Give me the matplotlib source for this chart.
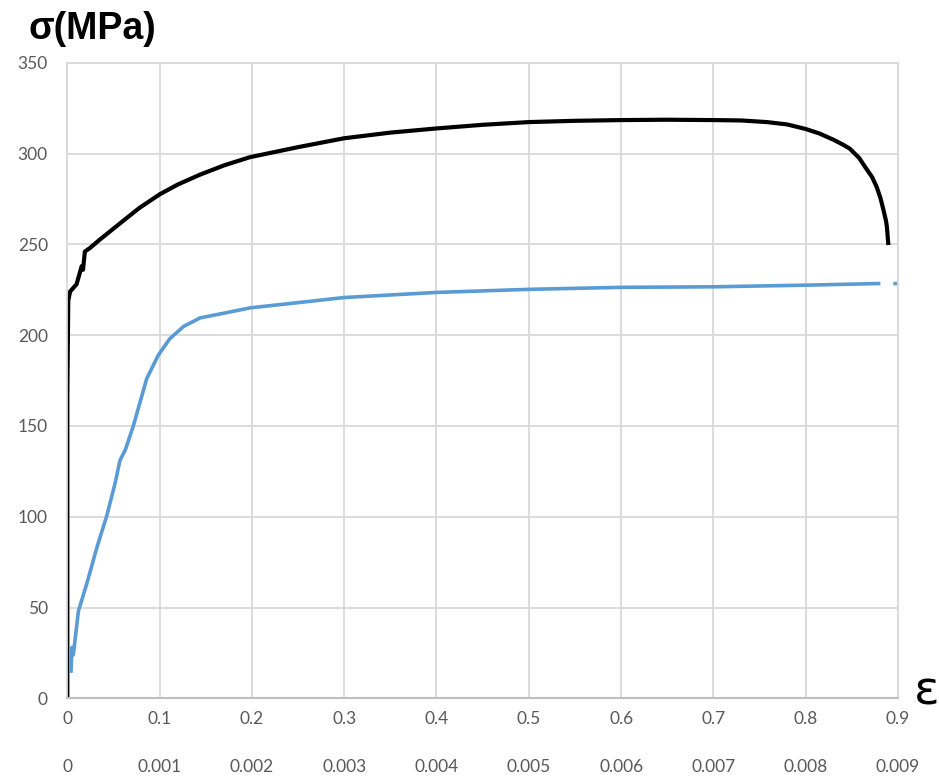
import numpy as np
import matplotlib

matplotlib.use("Agg")
import matplotlib.pyplot as plt

# strain on the main axis (as shown, 0..0.9) and stress in MPa
black_strain = [0, 0, 0.001, 0.003, 0.010, 0.0156, 0.017, 0.019, 0.0246, 0.035,
                0.057, 0.078, 0.100, 0.120, 0.144, 0.170, 0.198, 0.25, 0.30, 0.35,
                0.40, 0.45, 0.50, 0.55, 0.60, 0.65, 0.70, 0.73, 0.758, 0.78, 0.80,
                0.815, 0.830, 0.840, 0.848, 0.858, 0.866, 0.872, 0.877, 0.881,
                0.884, 0.887, 0.888, 0.8896]
black_stress = [0, 167, 219, 224, 228, 238, 236, 246, 248, 252.5,
                261.5, 270, 277.5, 283, 288.4, 293.5, 298, 303.5, 308.4, 311.5,
                313.8, 315.8, 317.3, 318, 318.4, 318.6, 318.4, 318.2, 317.3, 316, 313.5,
                311, 307.6, 305, 302.6, 297.5, 291.4, 287, 281.5, 275.5,
                269.5, 263, 259.6, 249.6]

blue_strain = [0.004, 0.005, 0.0065, 0.012, 0.021, 0.032, 0.043, 0.052, 0.057,
               0.063, 0.0715, 0.086, 0.0986, 0.111, 0.126, 0.144, 0.173, 0.198,
               0.252, 0.30, 0.40, 0.50, 0.60, 0.70, 0.80, 0.879, np.nan, 0.897, 0.90]
blue_stress = [15, 28, 24, 48, 63, 83, 101, 119, 131,
               137, 150, 176, 189, 198, 204.8, 209.5, 212.4, 215,
               218, 220.7, 223.5, 225.2, 226.3, 226.6, 227.5, 228.4, np.nan, 228.4, 228.4]

x_ticks = [0, 0.1, 0.2, 0.3, 0.4, 0.5, 0.6, 0.7, 0.8, 0.9]
x_labels = ["0", "0.1", "0.2", "0.3", "0.4", "0.5", "0.6", "0.7", "0.8", "0.9"]
x2_labels = ["0", "0.001", "0.002", "0.003", "0.004", "0.005", "0.006", "0.007", "0.008", "0.009"]
y_ticks = [0, 50, 100, 150, 200, 250, 300, 350]

GRID = "#d9d9d9"
TXT = "#595959"

plt.rcParams["font.family"] = ["Lato", "DejaVu Sans"]

fig = plt.figure(figsize=(9.39, 7.76), dpi=100)
ax = fig.add_axes([0.0717, 0.1001, 0.8846, 0.8191])

ax.plot(black_strain, black_stress, color="black", lw=3.0,
        solid_joinstyle="round", solid_capstyle="butt")
ax.plot(blue_strain, blue_stress, color="#5b9bd5", lw=2.6, solid_joinstyle="round")

ax.set_xlim(0, 0.9)
ax.set_ylim(0, 350)
ax.set_xticks(x_ticks)
ax.set_xticklabels(x_labels)
ax.set_yticks(y_ticks)
ax.grid(True, color=GRID, lw=1.3)
ax.set_axisbelow(True)
for side in ["top", "right", "left"]:
    ax.spines[side].set_color(GRID)
    ax.spines[side].set_linewidth(1.3)
ax.spines["bottom"].set_color("#bfbfbf")
ax.spines["bottom"].set_linewidth(1.5)
ax.tick_params(axis="x", length=0, pad=9, labelsize=12.5, labelcolor=TXT)
ax.tick_params(axis="y", length=0, pad=14, labelsize=12.5, labelcolor=TXT)

# second strain scale below the first one
sec = ax.secondary_xaxis(-0.0755)
sec.set_xticks(x_ticks)
sec.set_xticklabels(x2_labels)
sec.spines["bottom"].set_visible(False)
sec.tick_params(axis="x", length=0, pad=9, labelsize=12.5, labelcolor=TXT)

fig.text(28 / 939, 1 - 29 / 776, "σ(MPa)", fontsize=27, fontweight="bold",
         family=["Liberation Sans", "DejaVu Sans"], ha="left", va="center")
fig.text(927 / 939, 1 - 692 / 776, "ε", fontsize=34,
         family=["DejaVu Sans"], ha="center", va="center")

fig.savefig("out.png", dpi=100)
